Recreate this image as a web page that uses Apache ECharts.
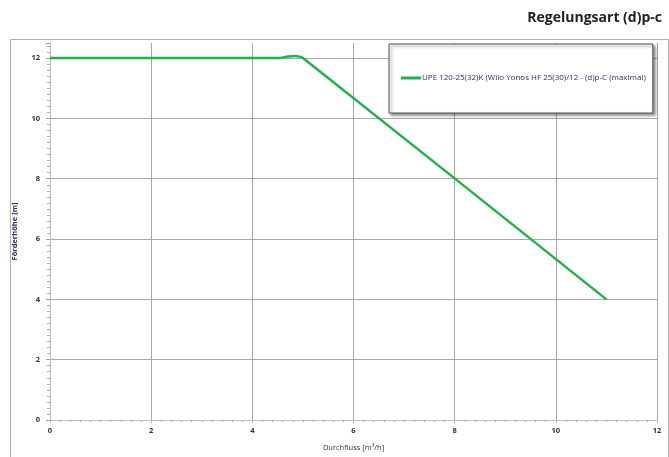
<!DOCTYPE html>
<html><head><meta charset="utf-8">
<script src="https://cdn.jsdelivr.net/npm/echarts@6/dist/echarts.min.js"></script>
<style>html,body{margin:0;padding:0;background:#fff}#c{width:669px;height:457px}</style>
</head><body><div id="c"></div>
<script>
const titleText = 'Regelungsart (d)p-c';
const seriesName = 'UPE 120-25(32)K (Wilo Yonos HF 25(30)/12 - (d)p-C (maximal)';
const xName = 'Durchfluss [m³/h]';
const yName = 'Förderhöhe [m]';
const flow = [0, 4.5, 4.7, 4.85, 5.0, 11];
const head = [12, 12, 12.05, 12.07, 12.0, 4];

const chart = echarts.init(document.getElementById('c'));
const labelColor = '#2e2e5e';
chart.setOption({
  animation: false,
  backgroundColor: '#fff',
  title: {
    text: titleText, right: 2, top: 6,
    textStyle: { fontFamily: 'Open Sans', fontWeight: 'bold', fontSize: 14, color: '#222' }
  },
  graphic: [{
    type: 'rect', left: 8, top: 37, z: -1,
    shape: { width: 658, height: 440 },
    style: { fill: 'none', stroke: '#b0b0b0', lineWidth: 1 }
  }],
  legend: {
    left: 389, top: 44,
    padding: [30, 7, 31, 12],
    backgroundColor: '#fff', borderColor: '#555', borderWidth: 1,
    shadowColor: 'rgba(0,0,0,0.45)', shadowBlur: 3, shadowOffsetX: 2, shadowOffsetY: 2,
    itemWidth: 20, itemHeight: 3, itemGap: 2,
    icon: 'rect',
    textStyle: { fontFamily: 'Open Sans', fontSize: 8, color: labelColor, padding: [0, 0, 0, -4] },
    data: [seriesName]
  },
  grid: { left: 50, right: 12, top: 43, bottom: 34, containLabel: false },
  xAxis: {
    type: 'value', min: 0, max: 12, interval: 2,
    name: xName, nameLocation: 'middle', nameGap: 24,
    nameTextStyle: { fontFamily: 'Open Sans', fontSize: 7.5, color: labelColor },
    axisLine: { show: true, lineStyle: { color: '#bbb', width: 1 } },
    axisTick: { show: true, length: 3, lineStyle: { color: '#bbb' } },
    minorTick: { show: true, splitNumber: 10, length: 2, lineStyle: { color: '#aaa' } },
    axisLabel: { margin: 7, fontFamily: 'Open Sans', fontWeight: 'bold', fontSize: 7.5, color: labelColor },
    splitLine: { show: true, lineStyle: { color: '#a8a8a8', width: 1 } }
  },
  yAxis: {
    type: 'value', min: 0, max: 12.5, interval: 2,
    name: yName, nameLocation: 'middle', nameGap: 31, nameRotate: 90,
    nameTextStyle: { fontFamily: 'Open Sans', fontSize: 7.5, fontWeight: 'bold', color: labelColor },
    axisLine: { show: true, lineStyle: { color: '#bbb', width: 1 } },
    axisTick: { show: true, length: 4, lineStyle: { color: '#999' } },
    minorTick: { show: true, splitNumber: 10, length: 3, lineStyle: { color: '#aaa' } },
    axisLabel: {
      margin: 10, fontFamily: 'Open Sans', fontWeight: 'bold', fontSize: 7.5, color: labelColor,
      showMaxLabel: false,
      formatter: v => (v % 2 === 0 ? String(v) : '')
    },
    splitLine: { show: true, showMaxLine: false, lineStyle: { color: '#a8a8a8', width: 1 } }
  },
  series: [{
    name: seriesName, type: 'line',
    data: flow.map((x, i) => [x, head[i]]),
    showSymbol: false, symbol: 'none', smooth: 0.2,
    lineStyle: { color: '#22b14c', width: 2.5 },
    itemStyle: { color: '#22b14c' }
  }]
});
</script></body></html>
